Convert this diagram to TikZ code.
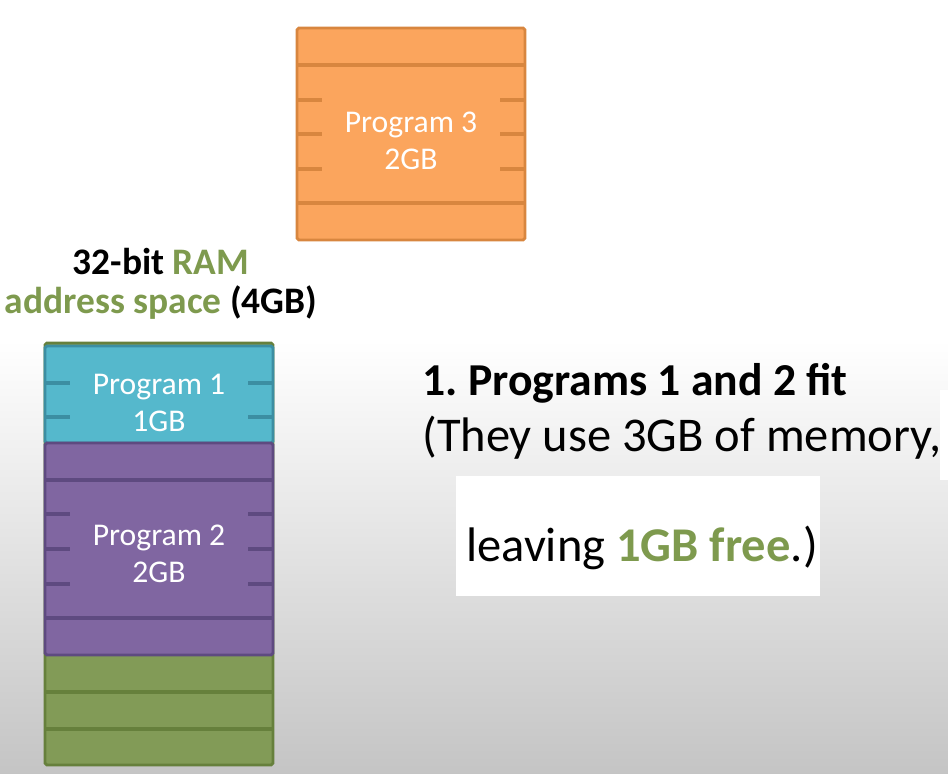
\documentclass[tikz,border=0pt]{standalone}
\usepackage{fontspec}
\setmainfont{Carlito}
\frenchspacing
\definecolor{orfill}{HTML}{FBA55D}
\definecolor{orline}{HTML}{D8863F}
\definecolor{cyfill}{HTML}{55B8CC}
\definecolor{cyline}{HTML}{3C8EA2}
\definecolor{pufill}{HTML}{8066A1}
\definecolor{puline}{HTML}{5E4A80}
\definecolor{grfill}{HTML}{829B57}
\definecolor{grline}{HTML}{66803C}
\definecolor{grtext}{HTML}{7E9A4E}
\begin{document}
\begin{tikzpicture}[x=0.02cm,y=-0.02cm,
    block/.style={draw,line width=1.6pt,rounded corners=1pt,minimum width=4.56cm,inner sep=0pt},
    blocktext/.style={text=white,align=center,font=\fontsize{18}{21}\selectfont},
    bar/.style={line width=2.2pt},
    big/.style={anchor=base west,inner sep=0pt,font=\fontsize{27.6}{33}\selectfont}]
    \useasboundingbox (0,0) rectangle (948,774);
    % background
    \fill[white] (0,0) rectangle (948,774);
    \shade[top color=white,bottom color=black!23] (0,340) rectangle (948,774);
    \fill[white] (940,390) rectangle (948,480);
    \fill[white] (456,476) rectangle (820,596);
    % program 3 (waiting)
    \node[block,draw=orline,fill=orfill,minimum height=4.24cm] (p3) at (411,134) {};
    \draw[bar,orline] (297,65) -- (525,65) (297,203) -- (525,203);
    \foreach \y in {100,134,169}
        \draw[bar,orline] (297,\y) -- +(25,0) (525,\y) -- +(-25,0);
    \node[blocktext] (p3txt) at (411,140.5) {Program 3\\2GB};
    % ram, 4GB
    \node[align=center,font=\bfseries\fontsize{21.3}{22}\selectfont] (ramlbl) at (161,284)
        {32-bit \textcolor{grtext}{RAM}\\\textcolor{grtext}{address space} (4GB)};
    \node[block,draw=grline,fill=grfill,minimum height=8.44cm] (ram) at (159,554) {};
    \draw[bar,grline] (45,692) -- (273,692) (45,729) -- (273,729);
    \node[block,draw=cyline,fill=cyfill,minimum height=1.94cm] (p1) at (159,394.5) {};
    \foreach \y in {383,417}
        \draw[bar,cyline] (45,\y) -- +(25,0) (273,\y) -- +(-25,0);
    \node[blocktext] (p1txt) at (159,403) {Program 1\\1GB};
    \node[block,draw=puline,fill=pufill,minimum height=4.24cm] (p2) at (159,549) {};
    \draw[bar,puline] (45,480) -- (273,480) (45,618) -- (273,618);
    \foreach \y in {514,549,584}
        \draw[bar,puline] (45,\y) -- +(25,0) (273,\y) -- +(-25,0);
    \node[blocktext] (p2txt) at (159,554) {Program 2\\2GB};
    % text
    \node[big,font=\bfseries\fontsize{26}{31}\selectfont] (fit) at (422,395) {1. Programs 1 and 2 fit};
    \node[big] (use) at (422,451) {(They use 3GB of memory,};
    \node[big] (free) at (466,561) {leaving \textcolor{grtext}{\bfseries 1GB free}.)};
\end{tikzpicture}
\end{document}
